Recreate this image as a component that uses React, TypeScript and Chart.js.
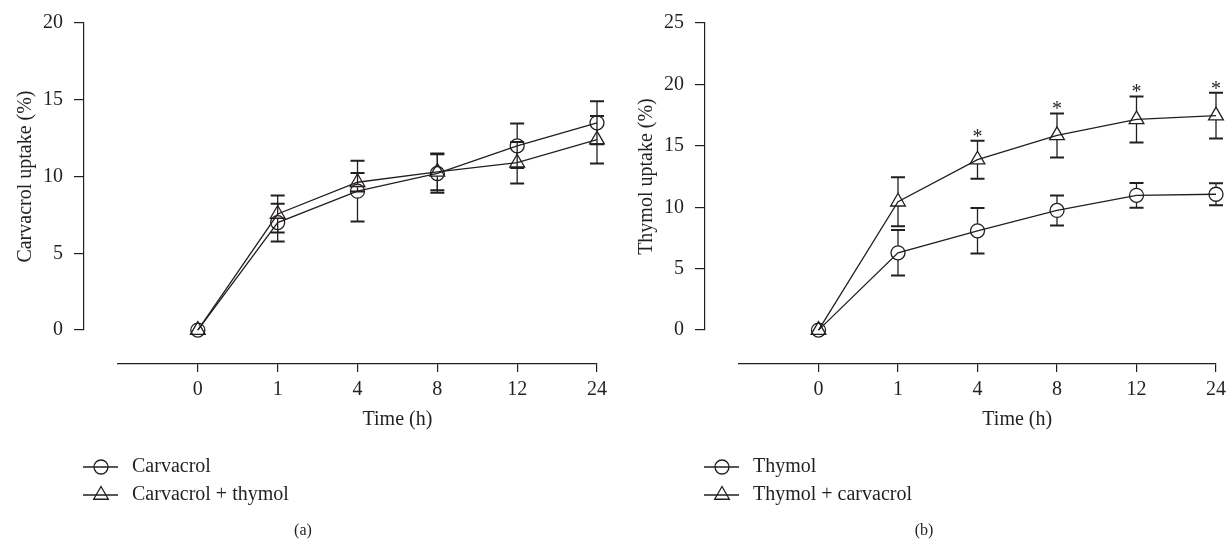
import React, { useEffect, useRef } from 'react';
import { Chart, registerables } from 'chart.js';

Chart.register(...registerables);

// ---------- data ----------
const categories = ['0', '1', '4', '8', '12', '24'];

const carvacrolMean = [0, 7.0, 9.05, 10.2, 12.0, 13.5];
const carvacrolErr = [0, 1.23, 1.98, 1.25, 1.45, 1.4];
const carvacrolThymolMean = [0, 7.56, 9.63, 10.3, 10.9, 12.4];
const carvacrolThymolErr = [0, 1.2, 0.6, 1.2, 1.35, 1.55];

const thymolMean = [0, 6.29, 8.08, 9.74, 10.97, 11.06];
const thymolErr = [0, 1.85, 1.85, 1.22, 1.0, 0.9];
const thymolCarvacrolMean = [0, 10.45, 13.87, 15.85, 17.15, 17.46];
const thymolCarvacrolErr = [0, 2.0, 1.55, 1.79, 1.87, 1.86];
const thymolCarvacrolSig = [false, false, true, true, true, true];

const leftYMax = 20;
const rightYMax = 25;
const yStep = 5;

// ---------- styling ----------
const INK = '#231f20';
const FONT = "'Liberation Serif', 'Times New Roman', serif";
const CANVAS_W = 614;
const CANVAS_H = 544;
const X_AXIS_H = 180;
const Y_AXIS_W = 84;

type Series = {
  label: string;
  mean: number[];
  err: number[];
  style: 'circle' | 'triangle';
  sig?: boolean[];
};

const markerRadius = (style: string) => (style === 'triangle' ? 8.5 : 7);

const errorBarPlugin = {
  id: 'errorBars',
  afterDatasetsDraw(chart: any) {
    const ctx = chart.ctx;
    const yScale = chart.scales.y;
    chart.data.datasets.forEach((ds: any, di: number) => {
      const meta = chart.getDatasetMeta(di);
      const r = markerRadius(ds.pointStyle);
      const above = r;
      const below = ds.pointStyle === 'triangle' ? r / 2 : r;
      meta.data.forEach((pt: any, i: number) => {
        const mean = ds.data[i].y;
        const e = ds.errors[i];
        const px = pt.x;
        const py = pt.y;
        const topY = yScale.getPixelForValue(mean + e);
        const botY = yScale.getPixelForValue(mean - e);
        ctx.save();
        ctx.strokeStyle = INK;
        if (e > 0) {
          ctx.lineWidth = 1.3;
          ctx.beginPath();
          if (py - above > topY) {
            ctx.moveTo(px, topY);
            ctx.lineTo(px, py - above);
          }
          if (py + below < botY) {
            ctx.moveTo(px, py + below);
            ctx.lineTo(px, botY);
          }
          ctx.stroke();
          ctx.lineWidth = 2;
          ctx.beginPath();
          ctx.moveTo(px - 7, topY);
          ctx.lineTo(px + 7, topY);
          ctx.moveTo(px - 7, botY);
          ctx.lineTo(px + 7, botY);
          ctx.stroke();
        }
        if (ds.sig && ds.sig[i]) {
          ctx.fillStyle = INK;
          ctx.font = `20px ${FONT}`;
          ctx.textAlign = 'center';
          ctx.textBaseline = 'alphabetic';
          ctx.fillText('*', px, topY + 2);
        }
        ctx.restore();
      });
    });
  },
};

const decorPlugin = {
  id: 'panelDecor',
  afterDraw(chart: any, _args: any, opts: any) {
    const ctx = chart.ctx;
    const area = chart.chartArea;
    const xs = chart.scales.x;
    ctx.save();
    ctx.fillStyle = INK;
    ctx.strokeStyle = INK;
    // x axis title centred over the tick range
    const x0 = xs.getPixelForValue(0);
    const x1 = xs.getPixelForValue(categories.length - 1);
    ctx.font = `20px ${FONT}`;
    ctx.textAlign = 'center';
    ctx.textBaseline = 'middle';
    ctx.fillText(opts.xTitle, (x0 + x1) / 2, area.bottom + 56);

    // legend
    chart.data.datasets.forEach((ds: any, i: number) => {
      const y = area.bottom + 103 + i * 28;
      const lx0 = area.left - 1;
      const lx1 = area.left + 34;
      const cx = area.left + 17;
      ctx.lineWidth = 1.3;
      ctx.beginPath();
      ctx.moveTo(lx0, y);
      ctx.lineTo(lx1, y);
      ctx.stroke();
      const r = markerRadius(ds.pointStyle);
      ctx.beginPath();
      if (ds.pointStyle === 'triangle') {
        for (let k = 0; k < 3; k++) {
          const a = (k * 2 * Math.PI) / 3;
          const vx = cx + Math.sin(a) * r;
          const vy = y - Math.cos(a) * r;
          if (k === 0) ctx.moveTo(vx, vy);
          else ctx.lineTo(vx, vy);
        }
        ctx.closePath();
      } else {
        ctx.arc(cx, y, r, 0, Math.PI * 2);
      }
      ctx.stroke();
      ctx.fillStyle = INK;
      ctx.textAlign = 'left';
      ctx.textBaseline = 'middle';
      ctx.font = `20px ${FONT}`;
      ctx.fillText(ds.label, area.left + 48, y);
    });

    // panel label
    ctx.font = `16px ${FONT}`;
    ctx.textAlign = 'center';
    ctx.textBaseline = 'middle';
    ctx.fillText(opts.panelLabel, area.left + 219, 531);
    ctx.restore();
  },
};

function makeConfig(yTitle: string, yMax: number, series: Series[], panelLabel: string, xRight: number) {
  const tickFont = { family: FONT, size: 20 };
  return {
    type: 'line',
    data: {
      datasets: series.map((s) => ({
        label: s.label,
        data: s.mean.map((v, i) => ({ x: i, y: v })),
        errors: s.err,
        sig: s.sig,
        xAxisID: 'x',
        yAxisID: 'y',
        borderColor: INK,
        borderWidth: 1.3,
        pointStyle: s.style,
        pointRadius: markerRadius(s.style),
        pointHoverRadius: markerRadius(s.style),
        pointBorderColor: INK,
        pointBackgroundColor: 'rgba(0,0,0,0)',
        pointBorderWidth: 1.3,
        tension: 0,
        fill: false,
        clip: false,
      })),
    },
    options: {
      responsive: false,
      animation: false,
      devicePixelRatio: 1,
      events: [],
      layout: { padding: { top: 22, left: 0, right: CANVAS_W - xRight, bottom: 0 } },
      plugins: {
        legend: { display: false },
        tooltip: { enabled: false },
        panelDecor: { xTitle: 'Time (h)', panelLabel },
      },
      scales: {
        x: {
          type: 'linear',
          axis: 'x',
          position: 'bottom',
          stack: 'h',
          stackWeight: xRight - Y_AXIS_W - 34,
          weight: 1,
          min: -1,
          max: categories.length - 1,
          afterBuildTicks: (s: any) => {
            s.ticks = categories.map((_, i) => ({ value: i }));
          },
          afterFit: (s: any) => {
            s.height = X_AXIS_H;
            s.paddingLeft = 0;
            s.paddingRight = 0;
          },
          ticks: {
            callback: (v: any) => categories[v] ?? '',
            font: tickFont,
            color: INK,
            padding: 6,
            maxRotation: 0,
            autoSkip: false,
          },
          grid: { display: true, drawOnChartArea: false, drawTicks: true, tickLength: 8, color: INK, lineWidth: 1.2 },
          border: { display: true, color: INK, width: 1.2 },
        },
        xPad: {
          type: 'linear',
          axis: 'x',
          position: 'bottom',
          stack: 'h',
          stackWeight: 34,
          weight: 0,
          display: true,
          afterFit: (s: any) => {
            s.height = X_AXIS_H;
            s.paddingLeft = 0;
            s.paddingRight = 0;
          },
          ticks: { display: false },
          grid: { display: false, drawTicks: false },
          border: { display: false },
        },
        y: {
          type: 'linear',
          axis: 'y',
          position: 'left',
          stack: 'v',
          stackWeight: 308,
          weight: 2,
          min: 0,
          max: yMax,
          afterFit: (s: any) => {
            s.width = Y_AXIS_W;
          },
          ticks: { stepSize: yStep, font: tickFont, color: INK, padding: 11 },
          title: { display: true, text: yTitle, font: { family: FONT, size: 20 }, color: INK, padding: { top: 14, bottom: 0 } },
          grid: { display: true, drawOnChartArea: false, drawTicks: true, tickLength: 10, color: INK, lineWidth: 1.2 },
          border: { display: true, color: INK, width: 1.2 },
        },
        yPad: {
          type: 'linear',
          axis: 'y',
          position: 'left',
          stack: 'v',
          stackWeight: 34,
          weight: 1,
          display: true,
          afterFit: (s: any) => {
            s.width = Y_AXIS_W;
          },
          ticks: { display: false },
          grid: { display: false, drawTicks: false },
          border: { display: false },
        },
      },
    },
    plugins: [errorBarPlugin, decorPlugin],
  };
}

function Panel({ config, left }: { config: any; left: number }) {
  const ref = useRef<HTMLCanvasElement | null>(null);
  useEffect(() => {
    if (!ref.current) return;
    const chart = new Chart(ref.current, config);
    return () => chart.destroy();
  }, []);
  return (
    <canvas
      ref={ref}
      width={CANVAS_W}
      height={CANVAS_H}
      style={{ position: 'absolute', left, top: 0, width: CANVAS_W, height: CANVAS_H }}
    />
  );
}

const leftConfig = makeConfig(
  'Carvacrol uptake (%)',
  leftYMax,
  [
    { label: 'Carvacrol', mean: carvacrolMean, err: carvacrolErr, style: 'circle' },
    { label: 'Carvacrol + thymol', mean: carvacrolThymolMean, err: carvacrolThymolErr, style: 'triangle' },
  ],
  '(a)',
  597
);

const rightConfig = makeConfig(
  'Thymol uptake (%)',
  rightYMax,
  [
    { label: 'Thymol', mean: thymolMean, err: thymolErr, style: 'circle' },
    { label: 'Thymol + carvacrol', mean: thymolCarvacrolMean, err: thymolCarvacrolErr, style: 'triangle', sig: thymolCarvacrolSig },
  ],
  '(b)',
  595
);

export default function App() {
  return (
    <div
      style={{
        position: 'absolute',
        left: 0,
        top: 0,
        width: 1229,
        height: 544,
        overflow: 'hidden',
        background: '#ffffff',
      }}
    >
      <Panel config={leftConfig} left={0} />
      <Panel config={rightConfig} left={621} />
    </div>
  );
}
